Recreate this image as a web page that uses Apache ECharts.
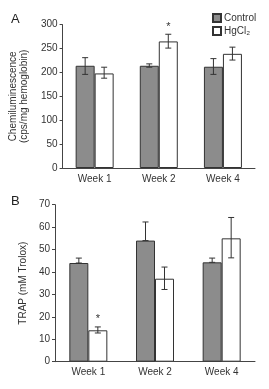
<!DOCTYPE html>
<html>
<head>
<meta charset="utf-8">
<script src="https://cdn.jsdelivr.net/npm/echarts@6/dist/echarts.min.js"></script>
<style>
    html, body { margin: 0; padding: 0; background: #fff; }
    #chart { width: 269px; height: 389px; }
</style>
</head>
<body>
<div id="chart"></div>
<script>
    // 数据
    const weeks = ['Week 1', 'Week 2', 'Week 4'];

    // A: Chemiluminescence
    const ctrlA = [214, 214, 212];
    const ctrlA_lo = [196, 211, 196];
    const ctrlA_hi = [231, 218, 229];
    const hgA = [198, 265, 239];
    const hgA_lo = [188, 251, 226];
    const hgA_hi = [211, 280, 253];
    const sigA = [0, 1, 0];

    // B: TRAP
    const ctrlB = [44, 54, 44.3];
    const ctrlB_lo = [44, 54, 44.3];
    const ctrlB_hi = [46.2, 62.3, 46.2];
    const hgB = [14, 37, 55];
    const hgB_lo = [12.8, 32.2, 46.3];
    const hgB_hi = [15.5, 42.2, 64.3];
    const sigB = [1, 0, 0];

    const ticksA = [0, 50, 100, 150, 200, 250, 300];
    const ticksB = [0, 10, 20, 30, 40, 50, 60, 70];

    const font = 'Liberation Sans, Arial, sans-serif';
    const axisColor = '#444';
    const barW = 19;

    function errSeries(gridIdx, lo, hi, sig, offset) {
        return {
            type: 'custom',
            xAxisIndex: gridIdx,
            yAxisIndex: gridIdx,
            z: 5,
            data: lo.map((v, i) => [i, v, hi[i], sig[i]]),
            renderItem: function (params, api) {
                let i = api.value(0);
                let pLo = api.coord([i, api.value(1)]);
                let pHi = api.coord([i, api.value(2)]);
                let x = pLo[0] + offset;
                let cap = 3;
                let children = [
                    { type: 'line', shape: { x1: x, y1: pLo[1], x2: x, y2: pHi[1] }, style: { stroke: '#333', lineWidth: 1 } },
                    { type: 'line', shape: { x1: x - cap, y1: pHi[1], x2: x + cap, y2: pHi[1] }, style: { stroke: '#333', lineWidth: 1 } }
                ];
                if (api.value(1) !== undefined && pLo[1] - pHi[1] > 0.5) {
                    children.push({ type: 'line', shape: { x1: x - cap, y1: pLo[1], x2: x + cap, y2: pLo[1] }, style: { stroke: '#333', lineWidth: 1 } });
                }
                if (api.value(3)) {
                    children.push({ type: 'text', style: { text: '*', x: x, y: pHi[1] - 2, align: 'center', verticalAlign: 'bottom', fill: '#333', font: '11px ' + font } });
                }
                return { type: 'group', children: children };
            }
        };
    }

    let myChart = echarts.init(document.getElementById('chart'));
    let option = {
        backgroundColor: '#fff',
        animation: false,
        textStyle: { fontFamily: font },
        title: [
            { text: 'A', left: 6, top: 8, textStyle: { fontSize: 13, fontWeight: 'normal', color: '#222', fontFamily: font } },
            { text: 'B', left: 6, top: 190, textStyle: { fontSize: 13, fontWeight: 'normal', color: '#222', fontFamily: font } }
        ],
        legend: {
            left: 207, top: 8,
            orient: 'vertical',
            itemWidth: 8, itemHeight: 8, itemGap: 3,
            icon: 'rect',
            textStyle: { fontSize: 10, color: '#333', padding: [0, 0, 0, -2], fontFamily: font },
            data: ['Control', 'HgCl₂']
        },
        grid: [
            { left: 55, top: 24.7, width: 200, height: 143.3 },
            { left: 55, top: 204.7, width: 200, height: 157 }
        ],
        xAxis: [0, 1].map(g => ({
            type: 'category',
            gridIndex: g,
            data: weeks,
            axisLine: { lineStyle: { color: axisColor } },
            axisTick: { length: 3, lineStyle: { color: axisColor } },
            axisLabel: { fontSize: 10, color: '#333', margin: 6 }
        })),
        yAxis: [
            {
                type: 'value', gridIndex: 0, min: 0, max: 300, interval: 50,
                name: 'Chemiluminescence\n(cps/mg hemoglobin)',
                nameLocation: 'middle', nameGap: 25, nameRotate: 90,
                nameTextStyle: { fontSize: 10, color: '#333', lineHeight: 11 },
                axisLine: { show: true, lineStyle: { color: axisColor } },
                axisTick: { show: true, length: 3, lineStyle: { color: axisColor } },
                axisLabel: { fontSize: 10, color: '#333', margin: 5 },
                splitLine: { show: false }
            },
            {
                type: 'value', gridIndex: 1, min: 0, max: 70, interval: 10,
                name: 'TRAP (mM Trolox)',
                nameLocation: 'middle', nameGap: 22, nameRotate: 90,
                nameTextStyle: { fontSize: 10, color: '#333' },
                axisLine: { show: true, lineStyle: { color: axisColor } },
                axisTick: { show: true, length: 3, lineStyle: { color: axisColor } },
                axisLabel: { fontSize: 10, color: '#333', margin: 5 },
                splitLine: { show: false }
            }
        ],
        series: [
            {
                name: 'Control', type: 'bar', xAxisIndex: 0, yAxisIndex: 0,
                data: ctrlA, barWidth: barW, barGap: '0%',
                itemStyle: { color: '#8c8c8c', borderColor: '#333', borderWidth: 1 }
            },
            {
                name: 'HgCl₂', type: 'bar', xAxisIndex: 0, yAxisIndex: 0,
                data: hgA, barWidth: barW, barGap: '0%',
                itemStyle: { color: '#fff', borderColor: '#333', borderWidth: 1 }
            },
            {
                name: 'Control', type: 'bar', xAxisIndex: 1, yAxisIndex: 1,
                data: ctrlB, barWidth: barW, barGap: '0%',
                itemStyle: { color: '#8c8c8c', borderColor: '#333', borderWidth: 1 }
            },
            {
                name: 'HgCl₂', type: 'bar', xAxisIndex: 1, yAxisIndex: 1,
                data: hgB, barWidth: barW, barGap: '0%',
                itemStyle: { color: '#fff', borderColor: '#333', borderWidth: 1 }
            },
            errSeries(0, ctrlA_lo, ctrlA_hi, [0, 0, 0], -barW / 2),
            errSeries(0, hgA_lo, hgA_hi, sigA, barW / 2),
            errSeries(1, ctrlB_lo, ctrlB_hi, [0, 0, 0], -barW / 2),
            errSeries(1, hgB_lo, hgB_hi, sigB, barW / 2)
        ]
    };
    myChart.setOption(option);
</script>
</body>
</html>
